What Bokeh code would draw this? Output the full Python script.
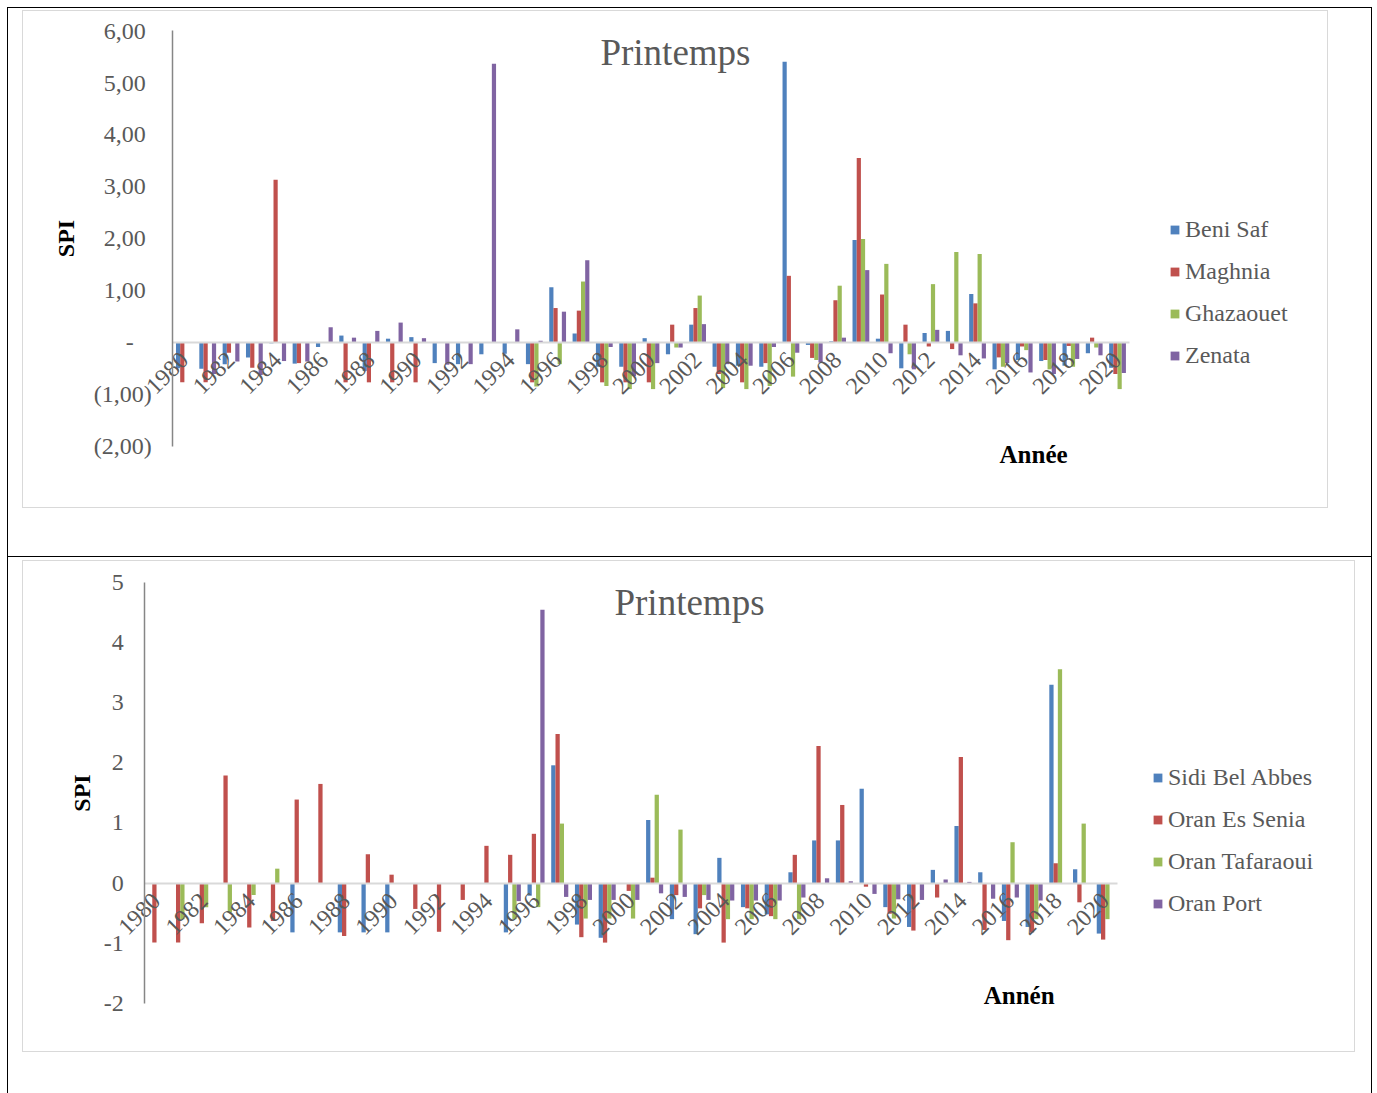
import math
import numpy as np
from bokeh.plotting import figure
from bokeh.models import (ColumnDataSource, FixedTicker, Legend, LegendItem,
                          Label, Range1d)
from bokeh.layouts import column
from bokeh.embed import file_html
from bokeh.resources import INLINE
from bokeh.transform import dodge

# ---------------------------------------------------------------- data
years = list(range(1980, 2021))
NA = None

# Spring SPI, first station group
beni_saf = [-0.50, -0.51, -0.42, -0.29, -0.02, -0.41, -0.09, 0.13, -0.55, 0.07,
            0.10, -0.40, -0.42, -0.23, -0.22, -0.42, 1.06, 0.17, -0.47, -0.47,
            0.08, -0.23, 0.34, -0.47, -0.45, -0.47, 5.40, -0.05, 0.02, 1.97,
            0.07, -0.50, 0.18, 0.22, 0.93, -0.52, -0.34, -0.36, -0.45, -0.21,
            -0.49]
maghnia = [-0.77, -0.77, -0.20, -0.49, 3.13, -0.40, NA, -0.77, -0.77, -0.77,
           -0.77, NA, NA, NA, NA, -0.77, 0.66, 0.61, -0.77, -0.77,
           -0.77, 0.34, 0.66, -0.61, -0.77, -0.40, 1.28, -0.30, 0.81, 3.55,
           0.92, 0.34, -0.08, -0.13, 0.75, -0.29, -0.08, -0.34, -0.07, 0.09,
           -0.61]
ghazaouet = [NA, NA, NA, NA, NA, NA, NA, NA, NA, NA,
             NA, NA, NA, NA, NA, -0.85, -0.42, 1.17, -0.84, -0.90,
             -0.90, -0.10, 0.90, -0.88, -0.90, -0.84, -0.66, -0.34, 1.09, 1.99,
             1.51, -0.23, 1.12, 1.74, 1.70, -0.47, -0.15, -0.52, -0.47, -0.10,
             -0.90]
zenata = [NA, -0.61, -0.37, -0.63, -0.36, -0.37, 0.29, 0.09, 0.22, 0.38,
          0.08, -0.43, -0.42, 5.36, 0.25, 0.03, 0.59, 1.58, -0.09, -0.65,
          -0.40, -0.10, 0.35, -0.42, -0.45, -0.09, -0.20, -0.39, 0.09, 1.39,
          -0.21, -0.52, 0.24, -0.25, -0.31, -0.40, -0.58, -0.61, -0.32, -0.25,
          -0.59]

# Spring SPI, second station group
sidi_bel_abbes = [NA, NA, NA, NA, NA, NA, -0.82, NA, -0.82, -0.82,
                  -0.82, NA, NA, NA, NA, -0.82, -0.21, 1.96, -0.69, -0.91,
                  NA, 1.05, -0.60, -0.85, 0.42, -0.40, -0.52, 0.18, 0.71, 0.71,
                  1.57, -0.40, -0.73, 0.22, 0.95, 0.18, -0.63, -0.73, 3.30, 0.23,
                  -0.84]
oran_es_senia = [-0.99, -0.99, -0.67, 1.79, -0.74, -0.63, 1.39, 1.65, -0.88, 0.48,
                 0.14, -0.43, -0.81, -0.28, 0.62, 0.47, 0.82, 2.48, -0.90, -0.99,
                 -0.13, 0.09, -0.20, -0.42, -0.99, -0.42, -0.55, 0.47, 2.28, 1.30,
                 -0.06, -0.51, -0.79, -0.24, 2.10, -0.78, -0.95, -0.82, 0.33, -0.32,
                 -0.94]
oran_tafaraoui = [NA, -0.60, -0.40, -0.49, -0.20, 0.24, NA, NA, NA, NA,
                  NA, NA, NA, NA, NA, -0.60, -0.40, 0.99, -0.59, -0.59,
                  -0.59, 1.47, 0.89, -0.20, -0.60, -0.60, -0.60, -0.60, NA, NA,
                  NA, -0.59, NA, NA, NA, NA, 0.68, -0.60, 3.56, 0.99,
                  -0.60]
oran_port = [NA, NA, NA, NA, NA, NA, NA, NA, NA, NA,
             NA, NA, NA, NA, NA, -0.30, 4.55, -0.23, -0.28, -0.28,
             -0.28, -0.17, -0.23, -0.28, -0.29, -0.29, -0.29, -0.24, 0.08, 0.03,
             -0.18, -0.27, -0.28, 0.06, 0.02, -0.26, -0.24, -0.29, NA, NA,
             NA]

series_top = ["Beni Saf", "Maghnia", "Ghazaouet", "Zenata"]
series_bottom = ["Sidi Bel Abbes", "Oran Es Senia", "Oran Tafaraoui", "Oran Port"]

x_ticks = list(range(1980, 2021, 2))
y_ticks_top = [-2, -1, 0, 1, 2, 3, 4, 5, 6]
y_labels_top = ["(2,00)", "(1,00)", "-\u00a0\u00a0\u00a0", "1,00\u00a0", "2,00\u00a0",
                "3,00\u00a0", "4,00\u00a0", "5,00\u00a0", "6,00\u00a0"]
y_ticks_bottom = [-2, -1, 0, 1, 2, 3, 4, 5]
y_labels_bottom = ["-2", "-1", "0", "1", "2", "3", "4", "5"]

# ---------------------------------------------------------------- style
FONT = "Liberation Serif"
TXT = "#595959"
COLORS = ["#4F81BD", "#C0504D", "#9BBB59", "#8064A2"]
OFFSETS = [-0.27, -0.09, 0.09, 0.27]
BAR_W = 0.18
X_LO, X_HI = 1979.5, 2020.5


def panel(names, values, y_lo, y_hi, yticks, ylabels, width, height,
          axis_box, tick_standoff, label_standoff, legend_loc, title_xy,
          xlabel, xlabel_xy):
    # axis_box: pixel box (left, right, top, bottom) of the plotted area inside
    # the canvas; the ranges are widened so that labels and legend stay inside
    # the frame while the axes keep their own bounds.
    cw, ch = width - 2, height - 2
    left, right, top, bottom = axis_box
    ux = (right - left) / (X_HI - X_LO)
    uy = (bottom - top) / (y_hi - y_lo)
    xr = Range1d(X_LO - left / ux, X_HI + (cw - right) / ux)
    yr = Range1d(y_lo - (ch - bottom) / uy, y_hi + top / uy)

    p = figure(width=width, height=height, output_backend="svg",
               toolbar_location=None, x_range=xr, y_range=yr,
               min_border=0, background_fill_color="white",
               border_fill_color="white", outline_line_color=None)
    p.xgrid.visible = False
    p.ygrid.visible = False

    data = {"year": years}
    for i, v in enumerate(values):
        data[f"s{i}"] = np.array([np.nan if a is None else a for a in v], dtype=float)
    src = ColumnDataSource(data)

    items = []
    for i, (name, col) in enumerate(zip(names, COLORS)):
        r = p.vbar(x=dodge("year", OFFSETS[i]), top=f"s{i}", bottom=0, width=BAR_W,
                   source=src, fill_color=col, line_color=None)
        items.append(LegendItem(label=name, renderers=[r]))

    # category axis sits on the zero line
    xa = p.xaxis[0]
    xa.fixed_location = 0
    xa.bounds = (X_LO, X_HI)
    xa.ticker = FixedTicker(ticks=x_ticks)
    xa.major_label_orientation = math.pi / 4
    xa.major_label_text_font = FONT
    xa.major_label_text_font_size = "24px"
    xa.major_label_text_color = TXT
    xa.major_label_standoff = 8
    xa.axis_line_color = "#d9d9d9"
    xa.axis_line_width = 2
    xa.major_tick_line_color = None
    xa.minor_tick_line_color = None

    ya = p.yaxis[0]
    ya.fixed_location = X_LO
    ya.bounds = (y_lo, y_hi)
    ya.ticker = FixedTicker(ticks=yticks)
    ya.major_label_overrides = {t: s for t, s in zip(yticks, ylabels)}
    ya.major_label_text_font = FONT
    ya.major_label_text_font_size = "24px"
    ya.major_label_text_color = TXT
    ya.major_label_standoff = tick_standoff
    ya.axis_line_color = "#868686"
    ya.axis_line_width = 1.5
    ya.major_tick_line_color = None
    ya.minor_tick_line_color = None
    ya.axis_label = "SPI"
    ya.axis_label_text_font = FONT
    ya.axis_label_text_font_size = "24px"
    ya.axis_label_text_font_style = "bold"
    ya.axis_label_text_color = "black"
    ya.axis_label_standoff = label_standoff

    p.add_layout(Label(x=title_xy[0], y=title_xy[1], text="Printemps",
                       text_font=FONT, text_font_size="37px", text_color=TXT,
                       text_align="center", text_baseline="middle"))
    p.add_layout(Label(x=xlabel_xy[0], y=xlabel_xy[1], text=xlabel,
                       text_font=FONT, text_font_size="25px", text_font_style="bold",
                       text_color="black", text_align="center", text_baseline="middle"))

    legend = Legend(items=items, location=legend_loc, orientation="vertical",
                    label_text_font=FONT, label_text_font_size="24px",
                    label_text_color=TXT, glyph_width=11, glyph_height=11,
                    label_height=42, label_standoff=5, spacing=0, padding=0,
                    margin=0, border_line_color=None, background_fill_alpha=0)
    p.add_layout(legend)
    return p


p1 = panel(series_top, [beni_saf, maghnia, ghazaouet, zenata],
           -2, 6, y_ticks_top, y_labels_top, 1306, 498, (149, 1104, 19, 433),
           15, 12, (1146, 133), (2001.05, 5.58), "Année", (2016.4, -2.15))
p2 = panel(series_bottom, [sidi_bel_abbes, oran_es_senia, oran_tafaraoui, oran_port],
           -2, 5, y_ticks_bottom, y_labels_bottom, 1333, 492, (121, 1092, 21, 440),
           15, 6, (1129, 129), (2002.47, 4.67), "Annén", (2016.37, -1.87))

p1.styles = {"border": "1px solid #d9d9d9"}
p2.styles = {"border": "1px solid #d9d9d9"}
p1.margin = (2, 43, 48, 14)
p2.margin = (3, 16, 41, 14)

sec1 = column(p1, styles={"border": "1px solid black"})
sec2 = column(p2, styles={"border-left": "1px solid black",
                          "border-right": "1px solid black"})
page = column(sec1, sec2)
page.margin = (7, 0, 0, 7)

with open("out.html", "w") as f:
    f.write(file_html(page, INLINE))
